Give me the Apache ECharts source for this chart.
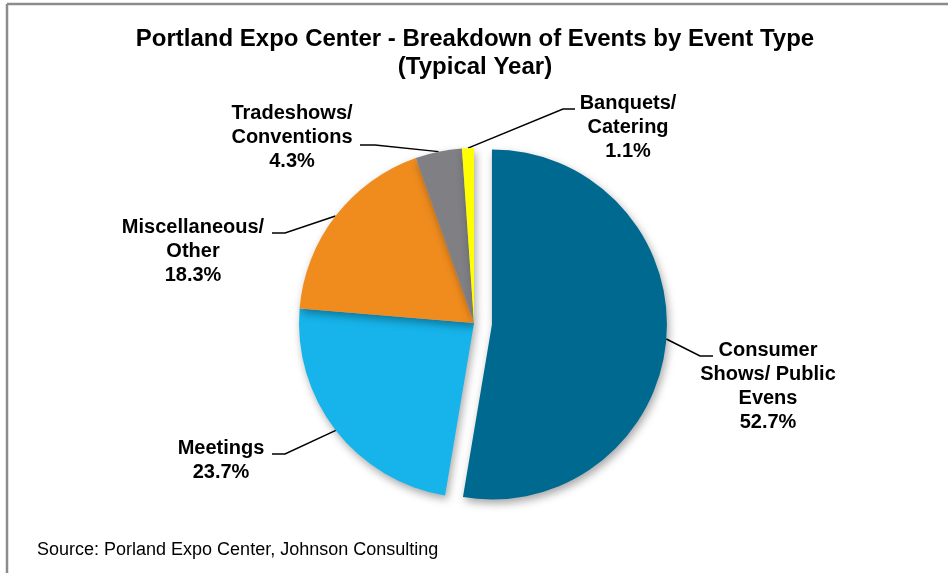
<!DOCTYPE html>
<html>
<head>
<meta charset="utf-8">
<script src="https://cdn.jsdelivr.net/npm/echarts@6/dist/echarts.min.js"></script>
<style>
html,body{margin:0;padding:0;background:#fff;}
#chart{width:948px;height:573px;}
</style>
</head>
<body>
<div id="chart"></div>
<script>
// ---- Data ----
const categories = ['Consumer\nShows/ Public\nEvens', 'Meetings', 'Miscellaneous/\nOther', 'Tradeshows/\nConventions', 'Banquets/\nCatering'];
const shares = [52.7, 23.7, 18.3, 4.3, 1.1];
const colors = ['#00698F', '#16B4EA', '#F08C1E', '#7F7F84', '#FFFF00'];
const explodedIndex = 0;
const titleText = 'Portland Expo Center - Breakdown of Events by Event Type\n(Typical Year)';
const sourceText = 'Source: Porland Expo Center, Johnson Consulting';

// ---- Layout ----
const CX = 474, CY = 323, R = 175, EXPLODE = 18;
const labelPlace = [
  {x: 768, y: 338, elbow: [700, 356], end: [713, 356]},
  {x: 221, y: 436, elbow: [285, 454], end: [272, 454]},
  {x: 193, y: 215, elbow: [285, 233], end: [272, 233]},
  {x: 292, y: 101, elbow: [375, 145], end: [360, 145]},
  {x: 628, y: 91,  elbow: [563, 109], end: [575, 109]}
];

// offset of the exploded slice along its mid angle
const total = shares.reduce((a, b) => a + b, 0);
let before = 0;
for (let i = 0; i < explodedIndex; i++) before += shares[i];
const midDeg = 90 - (before + shares[explodedIndex] / 2) / total * 360;
const midRad = midDeg * Math.PI / 180;
const explodedCenter = [CX + EXPLODE * Math.cos(midRad), CY - EXPLODE * Math.sin(midRad)];

const chart = echarts.init(document.getElementById('chart'), null, {renderer: 'canvas'});
const FONT = '"Liberation Sans", Arial, sans-serif';
const HIDDEN = 'rgba(0,0,0,0)';

function makeSeries(center, visibleFn) {
  return {
    type: 'pie',
    center: center,
    radius: R,
    startAngle: 90,
    clockwise: true,
    silent: true,
    avoidLabelOverlap: false,
    label: {
      show: true,
      position: 'outside',
      fontFamily: FONT,
      fontWeight: 'bold',
      fontSize: 20,
      lineHeight: 24,
      color: '#000',
      formatter: p => p.name + '\n' + p.value.toFixed(1) + '%'
    },
    labelLine: {show: true, length: 20, length2: 10, lineStyle: {color: '#000', width: 1.5}},
    labelLayout: function (params) {
      const L = labelPlace[params.dataIndex];
      const p = params.labelLinePoints;
      if (!p) return {};
      return {
        x: L.x, y: L.y, align: 'center', verticalAlign: 'top',
        labelLinePoints: [p[0], L.elbow, L.end]
      };
    },
    data: categories.map((c, i) => {
      const vis = visibleFn(i);
      return {
        name: c, value: shares[i],
        itemStyle: vis
          ? {color: colors[i], shadowBlur: 9, shadowColor: 'rgba(0,0,0,0.35)', shadowOffsetX: 2, shadowOffsetY: 4}
          : {color: HIDDEN, shadowBlur: 0, shadowColor: HIDDEN},
        label: {show: vis},
        labelLine: {show: vis}
      };
    })
  };
}

chart.setOption({
  animation: false,
  backgroundColor: '#ffffff',
  title: {
    text: titleText,
    left: 470,
    textAlign: 'center',
    top: 20,
    textStyle: {fontFamily: FONT, fontWeight: 'bold', fontSize: 24, lineHeight: 28, color: '#000'}
  },
  graphic: [
    {type: 'line', shape: {x1: 7, y1: 4, x2: 948, y2: 4}, style: {stroke: '#8c8c8c', lineWidth: 2.5}},
    {type: 'line', shape: {x1: 7, y1: 4, x2: 7, y2: 573}, style: {stroke: '#8c8c8c', lineWidth: 2.5}},
    {type: 'text', left: 37, top: 541, style: {text: sourceText, font: '18px ' + FONT, fill: '#000'}}
  ],
  series: [
    makeSeries([CX, CY], i => i !== explodedIndex),
    makeSeries(explodedCenter, i => i === explodedIndex)
  ]
});
</script>
</body>
</html>
